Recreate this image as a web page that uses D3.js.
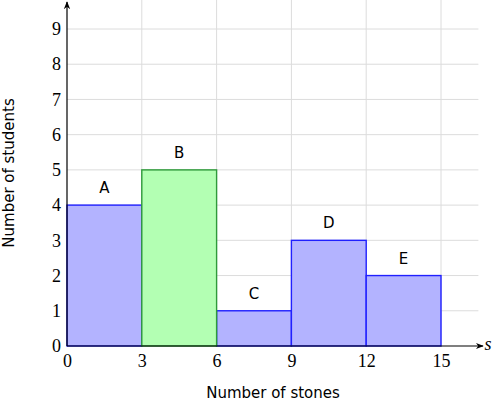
<!DOCTYPE html>
<html><head><meta charset="utf-8">
<script src="https://cdn.jsdelivr.net/npm/d3@7"></script>
<style>body{margin:0;background:#fff}svg{display:block}</style>
</head><body>
<script>
const categories = ["A","B","C","D","E"];
const binStarts = [0,3,6,9,12];
const binEnds = [3,6,9,12,15];
const counts = [4,5,1,3,2];
const highlighted = ["B"];
const xTicks = [0,3,6,9,12,15];
const yTicks = [0,1,2,3,4,5,6,7,8,9];

const W = 492, H = 404;
const svg = d3.select("body").append("svg").attr("width", W).attr("height", H);
const x = d3.scaleLinear().domain([0,15]).range([67,441]);
const y = d3.scaleLinear().domain([0,9]).range([346,29]);

const g = svg.append("g");
// grid
g.selectAll(".hg").data(yTicks.slice(1)).join("line")
  .attr("x1", x(0)).attr("x2", x(16.5)).attr("y1", d=>y(d)).attr("y2", d=>y(d))
  .attr("stroke", "#dcdcdc").attr("stroke-width", 1);
g.selectAll(".vg").data(xTicks.slice(1)).join("line")
  .attr("x1", d=>x(d)).attr("x2", d=>x(d)).attr("y1", y(0)).attr("y2", y(9.85))
  .attr("stroke", "#dcdcdc").attr("stroke-width", 1);

// bars
const bars = categories.map((c,i)=>({c, x0: binStarts[i], x1: binEnds[i], v: counts[i]}));
const ordered = bars.filter(d=>!highlighted.includes(d.c)).concat(bars.filter(d=>highlighted.includes(d.c)));
g.selectAll(".bar").data(ordered).join("rect")
  .attr("x", d=>x(d.x0)).attr("y", d=>y(d.v))
  .attr("width", d=>x(d.x1)-x(d.x0)).attr("height", d=>y(0)-y(d.v))
  .attr("fill", d=>highlighted.includes(d.c) ? "#b3ffb3" : "#b3b3ff")
  .attr("stroke", d=>highlighted.includes(d.c) ? "#2e9a3a" : "#2020ff")
  .attr("stroke-width", 1.4);

g.selectAll(".lbl").data(bars).join("text")
  .attr("x", d=>x((d.x0+d.x1)/2)).attr("y", d=>y(d.v)-12)
  .attr("text-anchor","middle").attr("font-family","'DejaVu Sans', sans-serif")
  .attr("font-size", 15).attr("fill","#000").text(d=>d.c);

// axes with arrows
const defs = svg.append("defs");
defs.append("marker").attr("id","arr").attr("viewBox","0 0 10 10").attr("refX",9).attr("refY",5)
  .attr("markerWidth",8).attr("markerHeight",8).attr("markerUnits","userSpaceOnUse").attr("orient","auto")
  .append("path").attr("d","M0,1 L10,5 L0,9 L3,5 Z").attr("fill","#000");
svg.append("line").attr("x1", x(0)).attr("x2", 483).attr("y1", y(0)).attr("y2", y(0))
  .attr("stroke","#000").attr("stroke-width",1.2).attr("marker-end","url(#arr)");
svg.append("line").attr("x1", x(0)).attr("x2", x(0)).attr("y1", y(0)).attr("y2", 2)
  .attr("stroke","#000").attr("stroke-width",1.2).attr("marker-end","url(#arr)");

const xa = svg.append("g").attr("transform",`translate(0,${y(0)})`)
  .call(d3.axisBottom(x).tickValues(xTicks).tickSize(0).tickPadding(8).tickFormat(d3.format("d")));
xa.select(".domain").remove();
xa.attr("font-family", null).attr("font-size", null);
xa.selectAll("text").style("font-family","'Liberation Serif', 'DejaVu Serif', serif").style("font-size","18px").attr("fill","#000");
const ya = svg.append("g").attr("transform",`translate(${x(0)},0)`)
  .call(d3.axisLeft(y).tickValues(yTicks).tickSize(0).tickPadding(6).tickFormat(d3.format("d")));
ya.select(".domain").remove();
ya.attr("font-family", null).attr("font-size", null);
ya.selectAll("text").style("font-family","'Liberation Serif', 'DejaVu Serif', serif").style("font-size","18px").attr("fill","#000");

svg.append("text").attr("x",488).attr("y",y(0)+4).attr("text-anchor","middle")
  .style("font-family","'Liberation Serif', serif").attr("font-style","italic").style("font-size","18px").text("s");

svg.append("text").attr("x",273).attr("y",398).attr("text-anchor","middle")
  .attr("font-family","'DejaVu Sans', sans-serif").attr("font-size",15).text("Number of stones");
svg.append("text").attr("transform","translate(14,173) rotate(-90)").attr("text-anchor","middle")
  .attr("font-family","'DejaVu Sans', sans-serif").attr("font-size",15).text("Number of students");
</script>
</body></html>
